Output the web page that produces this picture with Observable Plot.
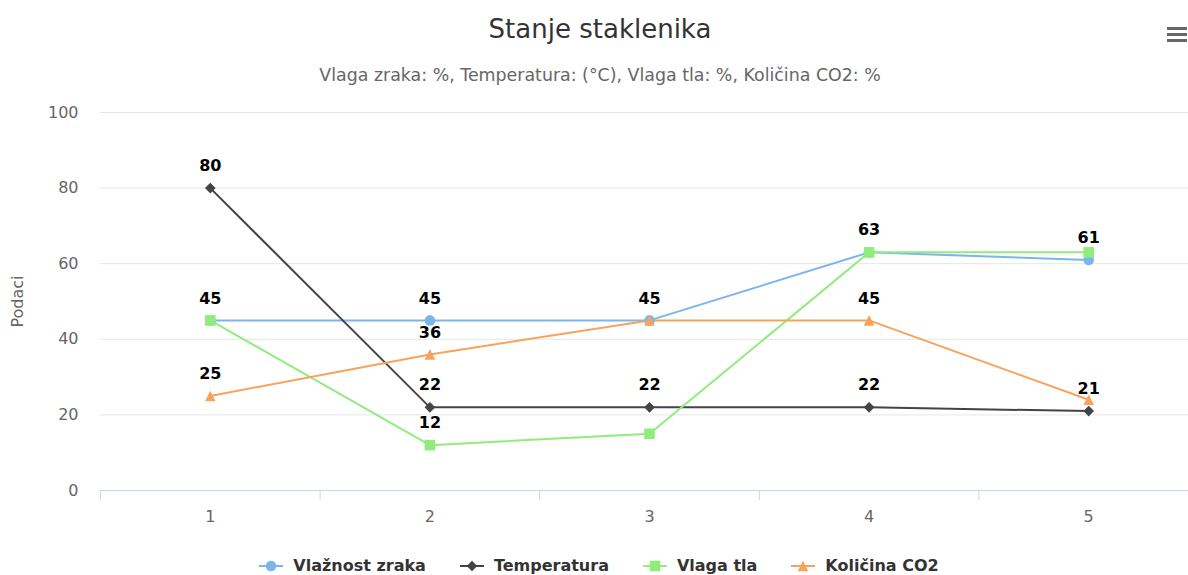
<!DOCTYPE html>
<html><head><meta charset="utf-8">
<script src="https://cdn.jsdelivr.net/npm/d3@7"></script>
<script src="https://cdn.jsdelivr.net/npm/@observablehq/plot@0.6"></script>
<style>
html,body{margin:0;padding:0;background:#fff;overflow:hidden;width:1188px;height:575px}
body{font-family:"DejaVu Sans",sans-serif;position:relative}
#head{height:95px;position:relative}
#title{position:absolute;top:13px;left:0;width:1200px;text-align:center;font-size:26px;color:#333;line-height:32px}
#subtitle{position:absolute;top:64px;left:0;width:1200px;text-align:center;font-size:17.4px;color:#666;line-height:22px}
#menu{position:absolute;left:1167px;top:27px;width:20px}
#menu div{height:3px;background:#666;margin-bottom:3px}
#chart{height:440px;width:1198px}
#chart svg{max-width:none !important}
#legend{display:flex;justify-content:center;gap:34px;padding-left:10px;margin-top:21px;font-weight:bold;font-size:16px;color:#333;white-space:nowrap}
#legend .item{display:flex;align-items:center;gap:10px}
</style>
</head>
<body>
<div id="head">
  <div id="title">Stanje staklenika</div>
  <div id="subtitle">Vlaga zraka: %, Temperatura: (°C), Vlaga tla: %, Količina CO2: %</div>
  <div id="menu"><div></div><div></div><div></div></div>
</div>
<div id="chart"></div>
<div id="legend"></div>
<script>
// ---- data ----
const categories = [1, 2, 3, 4, 5];
const seriesNames = ["Vlažnost zraka", "Temperatura", "Vlaga tla", "Količina CO2"];
const vlaznostZraka = [45, 45, 45, 63, 61];
const temperatura = [80, 22, 22, 22, 21];
const vlagaTla = [45, 12, 15, 63, 63];
const kolicinaCO2 = [25, 36, 45, 45, 24];
// categories whose data label is visible (others hidden by overlap in the original)
const labelsVlaznost = [1, 2, 3, 5];
const labelsTemperatura = [1, 2, 3, 4, 5];
const labelsVlagaTla = [2, 4];
const labelsCO2 = [1, 2, 4];
const yTicks = [0, 20, 40, 60, 80, 100];
const colors = ["#7cb5ec", "#434348", "#90ed7d", "#f7a35c"];
const symbolNames = ["circle", "diamond", "square", "triangle"];

// Highcharts-like marker shapes (size = pi * r^2)
const shapes = {
  circle: {draw(c, s) { const r = Math.sqrt(s / Math.PI); c.moveTo(r, 0); c.arc(0, 0, r, 0, 2 * Math.PI); }},
  diamond: {draw(c, s) { const r = Math.sqrt(s / Math.PI); c.moveTo(0, -r); c.lineTo(r, 0); c.lineTo(0, r); c.lineTo(-r, 0); c.closePath(); }},
  square: {draw(c, s) { const r = Math.sqrt(s / Math.PI); c.rect(-r, -r, 2 * r, 2 * r); }},
  triangle: {draw(c, s) { const r = Math.sqrt(s / Math.PI); c.moveTo(0, -r); c.lineTo(r, r); c.lineTo(-r, r); c.closePath(); }}
};

const values = [vlaznostZraka, temperatura, vlagaTla, kolicinaCO2];
const shown = [labelsVlaznost, labelsTemperatura, labelsVlagaTla, labelsCO2];
const data = [];
seriesNames.forEach((s, i) => values[i].forEach((v, j) =>
  data.push({series: s, x: categories[j], y: v, label: shown[i].includes(categories[j])})));
const edges = categories.map(c => c - 0.5).concat([categories[categories.length - 1] + 0.5]);

const chart = Plot.plot({
  width: 1198, height: 440,
  marginTop: 17, marginBottom: 45, marginLeft: 100, marginRight: 0,
  style: {fontFamily: "DejaVu Sans, sans-serif", fontSize: "16px", color: "#666", background: "transparent", overflow: "visible"},
  x: {domain: [edges[0], edges[edges.length - 1]]},
  y: {domain: [0, 100]},
  color: {domain: seriesNames, range: colors},
  symbol: {domain: seriesNames, range: symbolNames.map(n => shapes[n])},
  marks: [
    Plot.gridY(yTicks.filter(t => t > 0), {stroke: "#e6e6e6", strokeOpacity: 1}),
    Plot.axisY(yTicks, {tickSize: 0, tickPadding: 22, label: "Podaci", labelAnchor: "center", labelArrow: "none", labelOffset: 89, fill: "#666"}),
    Plot.ruleY([0], {stroke: "#ccd6eb"}),
    Plot.axisX(edges, {tickSize: 10, stroke: "#ccd6eb", tickFormat: () => "", label: null}),
    Plot.axisX(categories, {tickSize: 0, tickPadding: 20, label: null, fill: "#666", tickFormat: d => String(d)}),
    Plot.line(data, {x: "x", y: "y", stroke: "series", strokeWidth: 2}),
    Plot.dot(data, {x: "x", y: "y", fill: "series", symbol: "series", r: 5.3}),
    Plot.text(data.filter(d => d.label), {x: "x", y: "y", text: d => String(d.y), dy: -22,
      fontWeight: "bold", fontSize: 16, fill: "#000", stroke: "white", strokeWidth: 2, paintOrder: "stroke"})
  ]
});
chart.style.maxWidth = "none";
document.getElementById("chart").appendChild(chart);

// ---- legend ----
const legend = d3.select("#legend");
seriesNames.forEach((s, i) => {
  const item = legend.append("div").attr("class", "item");
  const svg = item.append("svg").attr("width", 24).attr("height", 14);
  svg.append("line").attr("x1", 0).attr("x2", 24).attr("y1", 7).attr("y2", 7)
    .attr("stroke", colors[i]).attr("stroke-width", 2);
  const p = d3.path();
  shapes[symbolNames[i]].draw(p, Math.PI * 5.3 * 5.3);
  svg.append("path").attr("transform", "translate(12,7)").attr("d", p.toString()).attr("fill", colors[i]);
  item.append("span").text(s);
});
</script>
</body></html>
